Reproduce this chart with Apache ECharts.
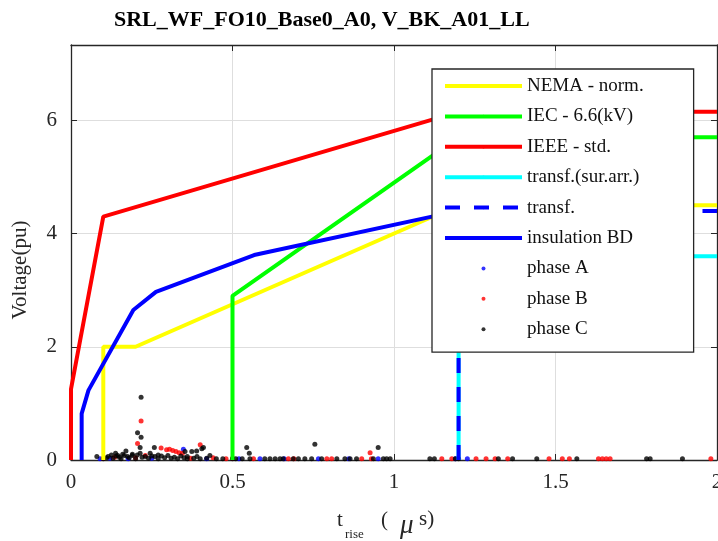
<!DOCTYPE html>
<html>
<head>
<meta charset="utf-8">
<script src="https://cdn.jsdelivr.net/npm/echarts@6/dist/echarts.min.js"></script>
<style>
  html, body { margin: 0; padding: 0; background: #fff; }
  #chart { width: 718px; height: 541px; }
</style>
</head>
<body>
<div id="chart"></div>
<script>
// limit curves (t_rise in us, voltage in pu)
const nemaX = [0.1, 0.1, 0.2, 1.2, 2];
const nemaY = [0, 2, 2, 4.5, 4.5];
const iecX = [0.5, 0.5, 1.2, 2];
const iecY = [0, 2.9, 5.7, 5.7];
const ieeeX = [0, 0, 0.1, 1.2, 2];
const ieeeY = [0, 1.25, 4.3, 6.15, 6.15];
const surArrX = [1.2, 1.2, 2];
const surArrY = [0, 3.6, 3.6];
const transfX = [1.2, 1.2, 2];
const transfY = [0, 4.4, 4.4];
const insX = [0.033, 0.033, 0.054, 0.193, 0.263, 0.567, 1.2];
const insY = [0, 0.82, 1.23, 2.65, 2.97, 3.62, 4.4];

// measured points
const phaseAX = [0.09, 0.12, 0.177, 0.25, 0.348, 0.42, 0.52, 0.585, 0.66, 0.766, 0.86, 0.951, 1.19, 1.227];
const phaseAY = [0.02, 0.03, 0.02, 0.03, 0.19, 0.02, 0.02, 0.02, 0.02, 0.02, 0.02, 0.02, 0.02, 0.02];

const phaseBX = [0.217, 0.206, 0.279, 0.296, 0.305, 0.315, 0.325, 0.335, 0.345, 0.4, 0.926,
  0.1, 0.135, 0.2, 0.23, 0.37, 0.44, 0.48, 0.5, 0.565, 0.673, 0.69, 0.792, 0.807, 0.9, 0.93,
  1.148, 1.179, 1.254, 1.285, 1.313, 1.352, 1.48, 1.521, 1.543, 1.633, 1.645, 1.657, 1.669, 1.981];
const phaseBY = [0.69, 0.29, 0.21, 0.18, 0.19, 0.17, 0.15, 0.13, 0.12, 0.27, 0.13,
  0.03, 0.05, 0.04, 0.08, 0.03, 0.04, 0.02, 0.03, 0.02, 0.02, 0.02, 0.02, 0.02, 0.02, 0.02,
  0.02, 0.02, 0.02, 0.02, 0.02, 0.02, 0.02, 0.02, 0.02, 0.02, 0.02, 0.02, 0.02, 0.02];

const phaseCX = [0.217, 0.206, 0.217, 0.214, 0.214, 0.17, 0.138, 0.145, 0.08, 0.258, 0.245, 0.27,
  0.41, 0.389, 0.353, 0.374, 0.405, 0.544, 0.552, 0.755, 0.951, 0.19, 0.23, 0.28, 0.32, 0.36, 0.15, 0.11,
  0.1, 0.115, 0.13, 0.155, 0.165, 0.18, 0.2, 0.22, 0.24, 0.26, 0.27, 0.29, 0.31, 0.33, 0.35, 0.36,
  0.38, 0.4, 0.42, 0.45, 0.47, 0.5, 0.51, 0.53, 0.554, 0.6, 0.616, 0.632, 0.647, 0.657, 0.688, 0.704,
  0.724, 0.745, 0.776, 0.823, 0.848, 0.864, 0.884, 0.936, 0.967, 0.977, 0.988, 1.111, 1.125, 1.19,
  1.2, 1.323, 1.367, 1.442, 1.566, 1.782, 1.793, 1.893,
  0.125, 0.14, 0.16, 0.175, 0.19, 0.205, 0.25, 0.3, 0.34, 0.39, 0.43];
const phaseCY = [1.11, 0.48, 0.4, 0.22, 0.12, 0.16, 0.12, 0.08, 0.06, 0.22, 0.12, 0.09,
  0.22, 0.16, 0.15, 0.15, 0.2, 0.22, 0.12, 0.28, 0.22, 0.1, 0.06, 0.07, 0.05, 0.06, 0.05, 0.04,
  0.02, 0.06, 0.03, 0.02, 0.08, 0.04, 0.02, 0.05, 0.03, 0.06, 0.02, 0.04, 0.03, 0.02, 0.04, 0.02,
  0.03, 0.02, 0.03, 0.02, 0.02, 0.02, 0.02, 0.02, 0.02, 0.02, 0.02, 0.02, 0.02, 0.02, 0.02, 0.02,
  0.02, 0.02, 0.02, 0.02, 0.02, 0.02, 0.02, 0.02, 0.02, 0.02, 0.02, 0.02, 0.02, 0.02,
  0.02, 0.02, 0.02, 0.02, 0.02, 0.02, 0.02, 0.02,
  0.09, 0.07, 0.1, 0.06, 0.08, 0.09, 0.07, 0.08, 0.07, 0.06, 0.08];

const xTicks = [0, 0.5, 1, 1.5, 2];
const yTicks = [0, 2, 4, 6];

const zip = (xs, ys) => xs.map((x, i) => [x, ys[i]]);
const font = 'Liberation Serif';
const axisColor = '#262626';

const chart = echarts.init(document.getElementById('chart'));

function lineSeries(name, xs, ys, color, dash) {
  return {
    name: name,
    type: 'line',
    data: zip(xs, ys),
    symbol: 'none',
    clip: false,
    lineStyle: { color: color, width: 4, type: dash ? [15, 14] : 'solid' },
    itemStyle: { color: color }
  };
}
function dotSeries(name, xs, ys, color) {
  return {
    name: name,
    type: 'scatter',
    data: zip(xs, ys),
    symbol: 'circle',
    symbolSize: 5,
    clip: false,
    itemStyle: { color: color }
  };
}

const option = {
  animation: false,
  backgroundColor: '#fff',
  title: {
    text: 'SRL_WF_FO10_Base0_A0, V_BK_A01_LL',
    left: 114,
    top: 9,
    padding: 0,
    textStyle: { fontFamily: font, fontSize: 22, fontWeight: 'bold', color: '#000' }
  },
  grid: { left: 71, right: 1, top: 45, bottom: 81, containLabel: false, outerBoundsMode: 'none' },
  legend: {
    orient: 'vertical',
    left: 432,
    top: 69,
    itemWidth: 77,
    itemHeight: 4,
    itemGap: 4.4,
    padding: [4, 50, 10, 11],
    backgroundColor: '#fff',
    borderColor: axisColor,
    borderWidth: 1.3,
    lineStyle: { width: 4 },
    textStyle: { fontFamily: font, fontSize: 19, color: '#111', lineHeight: 26 },
    data: ['NEMA - norm.', 'IEC - 6.6(kV)', 'IEEE - std.', 'transf.(sur.arr.)', 'transf.',
      'insulation BD', 'phase A', 'phase B', 'phase C']
  },
  xAxis: [{
    type: 'value',
    min: 0, max: 2, interval: 0.5,
    axisLine: { show: true, onZero: false, lineStyle: { color: axisColor, width: 1.3 } },
    axisTick: { show: true, inside: true, length: 6, lineStyle: { color: axisColor } },
    axisLabel: { fontFamily: font, fontSize: 21, color: axisColor, margin: 12,
      formatter: v => xTicks.includes(v) ? String(v) : '' },
    splitLine: { show: true, lineStyle: { color: '#dedede', width: 1 } }
  }, {
    type: 'value', position: 'top',
    min: 0, max: 2, interval: 0.5,
    axisLine: { show: true, onZero: false, lineStyle: { color: axisColor, width: 1.3 } },
    axisTick: { show: true, inside: true, length: 6, lineStyle: { color: axisColor } },
    axisLabel: { show: false },
    splitLine: { show: false }
  }],
  yAxis: [{
    type: 'value',
    min: 0, max: 7.33, interval: 2,
    axisLine: { show: true, onZero: false, lineStyle: { color: axisColor, width: 1.3 } },
    axisTick: { show: true, inside: true, length: 6, lineStyle: { color: axisColor } },
    axisLabel: { fontFamily: font, fontSize: 21, color: axisColor, margin: 14, showMaxLabel: false,
      formatter: v => yTicks.includes(v) ? String(v) : '' },
    splitLine: { show: true, lineStyle: { color: '#dedede', width: 1 } }
  }, {
    type: 'value', position: 'right',
    min: 0, max: 7.33, interval: 2,
    axisLine: { show: true, onZero: false, lineStyle: { color: axisColor, width: 1.3 } },
    axisTick: { show: true, inside: true, length: 6, lineStyle: { color: axisColor } },
    axisLabel: { show: false },
    splitLine: { show: false }
  }],
  graphic: [
    { type: 'text', x: 20, y: 270, rotation: Math.PI / 2,
      style: { text: 'Voltage(pu)', font: '21px "Liberation Serif"', fill: axisColor,
        textAlign: 'center', textVerticalAlign: 'middle' } },
    { type: 'text', left: 337, top: 510, style: { text: 't', font: '21px "Liberation Serif"', fill: axisColor } },
    { type: 'text', left: 345, top: 528, style: { text: 'rise', font: '13px "Liberation Serif"', fill: axisColor } },
    { type: 'text', left: 381, top: 510, style: { text: '(', font: '21px "Liberation Serif"', fill: axisColor } },
    { type: 'text', left: 400, top: 512, style: { text: 'μ', font: 'italic 27px "Liberation Serif"', fill: axisColor } },
    { type: 'text', left: 419, top: 509, style: { text: 's)', font: '21px "Liberation Serif"', fill: axisColor } }
  ],
  series: [
    lineSeries('NEMA - norm.', nemaX, nemaY, '#ffff00'),
    lineSeries('IEC - 6.6(kV)', iecX, iecY, '#00ff00'),
    lineSeries('IEEE - std.', ieeeX, ieeeY, '#ff0000'),
    lineSeries('transf.(sur.arr.)', surArrX, surArrY, '#00ffff'),
    lineSeries('transf.', transfX, transfY, '#0000ff', true),
    lineSeries('insulation BD', insX, insY, '#0000ff'),
    dotSeries('phase A', phaseAX, phaseAY, '#0000ff'),
    dotSeries('phase B', phaseBX, phaseBY, '#ff0000'),
    dotSeries('phase C', phaseCX, phaseCY, '#000000')
  ]
};

chart.setOption(option);
</script>
</body>
</html>
